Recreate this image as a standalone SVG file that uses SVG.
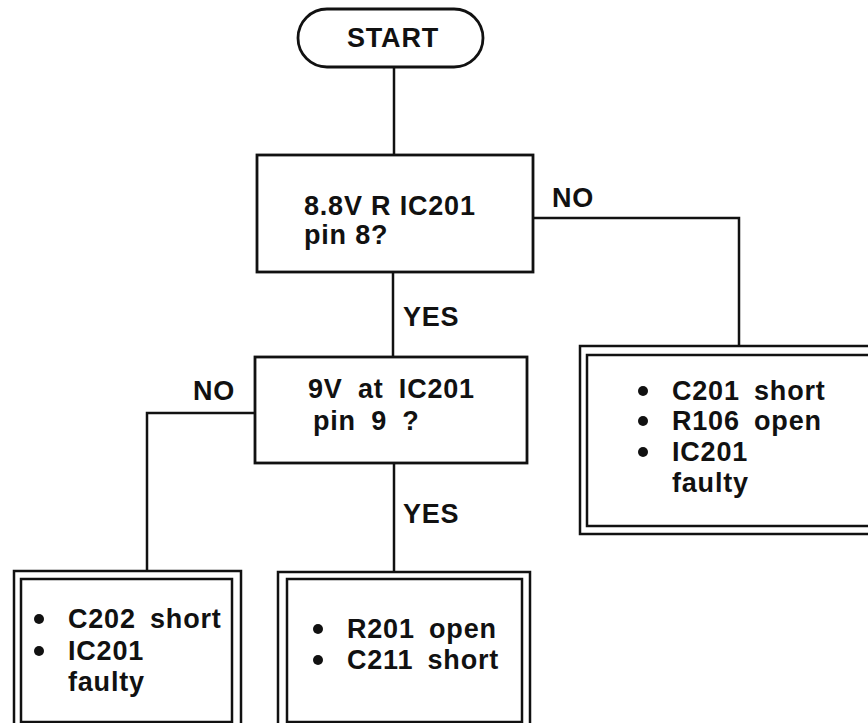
<svg xmlns="http://www.w3.org/2000/svg" width="868" height="723" viewBox="0 0 868 723">
<style>
.bg{fill:#fff}
.box{fill:#fff;stroke:#111;stroke-width:2.8}
.dbl{fill:none;stroke:#111;stroke-width:2.5}
.ln{fill:none;stroke:#111;stroke-width:2.5}
text{font-family:"Liberation Sans",Arial,Helvetica,sans-serif;font-weight:bold;font-size:27px;fill:#111;letter-spacing:0.8px}
.ws{word-spacing:6px}
.bul{fill:#111}
</style>
<rect class="bg" x="0" y="0" width="868" height="723"/>
<g id="connectors">
<path class="ln" d="M394 67 V155"/>
<path class="ln" d="M393 272 V357"/>
<path class="ln" d="M394 463 V572"/>
<path class="ln" d="M533 218 H739 V346"/>
<path class="ln" d="M255 413 H147 V571"/>
<text x="552" y="207">NO</text>
<text x="403" y="326">YES</text>
<text x="193" y="400">NO</text>
<text x="403" y="523">YES</text>
</g>
<g id="start">
<rect class="box" x="298" y="9" width="185" height="58" rx="29" ry="29"/>
<text x="347" y="47">START</text>
</g>
<g id="q1">
<rect class="box" x="257" y="155" width="276" height="117"/>
<text x="304" y="215">8.8V R IC201</text>
<text x="304" y="244">pin 8?</text>
</g>
<g id="q2">
<rect class="box" x="255" y="357" width="272" height="106"/>
<text x="308" y="398" style="word-spacing:7px">9V at IC201</text>
<text x="313" y="430" style="word-spacing:7px">pin 9 ?</text>
</g>
<g id="r1">
<rect class="dbl" x="580" y="346" width="320" height="188"/>
<rect class="dbl" x="587" y="355" width="310" height="171"/>
<circle class="bul" cx="643" cy="391" r="5"/>
<circle class="bul" cx="643" cy="421" r="5"/>
<circle class="bul" cx="643" cy="452" r="5"/>
<text class="ws" x="672" y="400">C201 short</text>
<text class="ws" x="672" y="430">R106 open</text>
<text class="ws" x="672" y="461">IC201</text>
<text class="ws" x="672" y="492">faulty</text>
</g>
<g id="r2">
<rect class="dbl" x="14" y="571" width="227" height="170"/>
<rect class="dbl" x="21" y="579" width="211" height="143"/>
<circle class="bul" cx="39" cy="619" r="5"/>
<circle class="bul" cx="39" cy="651" r="5"/>
<text class="ws" x="68" y="628">C202 short</text>
<text class="ws" x="68" y="660">IC201</text>
<text class="ws" x="68" y="691">faulty</text>
</g>
<g id="r3">
<rect class="dbl" x="278" y="572" width="252" height="170"/>
<rect class="dbl" x="287" y="579" width="235" height="143"/>
<circle class="bul" cx="318" cy="629" r="5"/>
<circle class="bul" cx="318" cy="660" r="5"/>
<text class="ws" x="347" y="638">R201 open</text>
<text class="ws" x="347" y="669">C211 short</text>
</g>
</svg>
